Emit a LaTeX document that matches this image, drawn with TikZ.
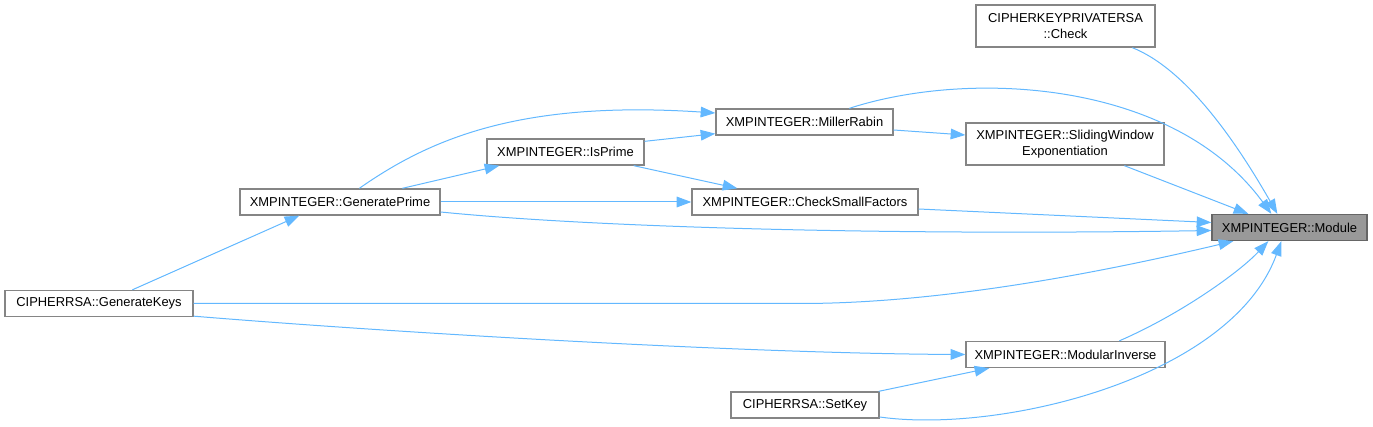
\documentclass[tikz,border=0pt]{standalone}
\usepackage{fontspec}
\setmainfont{Liberation Sans}
\usetikzlibrary{arrows.meta,calc}
\definecolor{edgec}{HTML}{63B8FF}
\definecolor{bordc}{HTML}{858585}
\definecolor{modfill}{HTML}{999999}
\definecolor{modbord}{HTML}{666666}
\begin{document}
\begin{tikzpicture}[x=0.75pt,y=-0.75pt,
  font=\fontsize{9.7}{12}\selectfont,
  box/.style={draw=bordc, line width=1pt, fill=white, inner sep=0pt, align=center, minimum height=19.5pt},
  tallbox/.style={box, minimum height=31.5pt},
  edge/.style={draw=edgec, line width=0.75pt, -{Triangle[length=11pt,width=8pt]}}]
\useasboundingbox (0,0) rectangle (1373,427);
% nodes
\node[tallbox, minimum width=134.25pt] (check) at (1065.5,26) {CIPHERKEYPRIVATERSA\\::Check};
\node[box, minimum width=132.75pt] (mr) at (804.5,122) {XMPINTEGER::MillerRabin};
\node[tallbox, minimum width=148.5pt] (swe) at (1065,144) {XMPINTEGER::SlidingWindow\\Exponentiation};
\node[box, minimum width=117.75pt] (isp) at (565.5,152) {XMPINTEGER::IsPrime};
\node[box, minimum width=150pt] (gp) at (340,202) {XMPINTEGER::GeneratePrime};
\node[box, minimum width=169.5pt] (csf) at (805,202) {XMPINTEGER::CheckSmallFactors};
\node[box, minimum width=116.25pt, fill=modfill, draw=modbord] (mod) at (1289.5,227.5) {XMPINTEGER::Module};
\node[box, minimum width=141pt] (gk) at (99,303.5) {CIPHERRSA::GenerateKeys};
\node[box, minimum width=149.25pt] (mi) at (1065.5,354.5) {XMPINTEGER::ModularInverse};
\node[box, minimum width=111pt] (sk) at (805,405) {CIPHERRSA::SetKey};
% edges
\draw[edge] ($(check.south west)+(157,0)$) .. controls +(55,22) and +(-40,-70) .. ($(mod.north west)+(66,0)$);
\draw[edge] ($(mr.north west)+(134,0)$) .. controls +(120,-39) and +(-98,-134) .. ($(mod.north west)+(60,0)$);
\draw[edge] ($(swe.south west)+(159,0)$) -- ($(mod.north west)+(37,0)$);
\draw[edge] ($(csf.east)+(0,7)$) -- ($(mod.west)+(0,-5)$);
\draw[edge] ($(gp.east)+(0,10)$) .. controls +(160,16) and +(-312,5) .. ($(mod.west)+(0,3)$);
\draw[edge] (gk.east) -- ++(607,0) .. controls +(150,0) and +(-114,27) .. ($(mod.south west)+(22,0)$);
\draw[edge] ($(mi.north west)+(154,0)$) .. controls +(60,-26) and +(-30,32) .. ($(mod.south west)+(57,0)$);
\draw[edge] ($(sk.east)+(0,12)$) .. controls +(121,17) and +(-50,137) .. ($(mod.south west)+(70,0)$);
\draw[edge] ($(mr.east)+(0,8)$) -- ($(swe.west)+(0,-9)$);
\draw[edge] ($(isp.north east)+(0,3)$) -- ($(mr.south west)+(0,-2)$);
\draw[edge] ($(isp.south east)+(-11,0)$) -- ($(csf.north west)+(46,0)$);
\draw[edge] ($(gp.north west)+(120,0)$) .. controls +(70,-49) and +(-196,-13) .. ($(mr.west)+(0,-9)$);
\draw[edge] ($(gp.north west)+(163,0)$) -- ($(isp.south west)+(13,0)$);
\draw[edge] (gp.east) -- (csf.west);
\draw[edge] ($(gk.north west)+(128,0)$) -- ($(gp.south west)+(60,0)$);
\draw[edge] ($(gk.south east)+(0,-1)$) .. controls +(207,17) and +(-216,-1) .. (mi.west);
\draw[edge] ($(sk.north east)+(-1,0)$) -- ($(mi.south west)+(24,0)$);
\end{tikzpicture}
\end{document}
